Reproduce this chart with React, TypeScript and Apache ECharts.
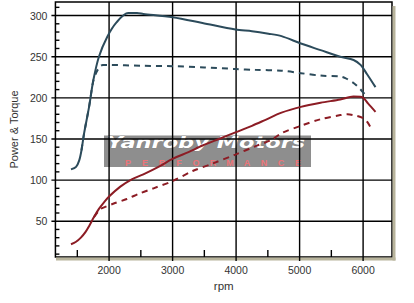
import React, { useEffect, useRef } from "react";
import * as echarts from "echarts";

// ---- data ----
const powerRpm = [1400, 1480, 1530, 1565, 1607, 1685, 1751, 1840, 1970, 2120, 2300, 2440, 2540, 3000, 3470, 3990, 4250, 4510, 4715, 5020, 5330, 5640, 5850, 5960, 6060, 6195];
const power = [113, 116, 124, 136, 157, 189, 221, 250, 274, 292, 303, 303, 302, 298, 291, 283, 281, 278, 275, 266, 258, 250, 246, 240, 229, 213];

const powerStockRpm = [1565, 1607, 1685, 1750, 1800, 1856, 1900, 2000, 2500, 3000, 3500, 4000, 4300, 4715, 5020, 5330, 5640, 5720, 5850, 5950, 6040];
const powerStock = [136, 157, 189, 220, 231, 238, 240, 240, 239, 238.5, 237, 235, 234, 233, 230, 227, 226, 224, 218, 211, 203];

const torqueRpm = [1400, 1480, 1556, 1630, 1685, 1762, 1840, 1920, 2000, 2177, 2357, 2540, 2800, 3005, 3250, 3472, 3730, 3990, 4250, 4455, 4715, 5020, 5330, 5640, 5848, 5977, 6080, 6195];
const torque = [22, 25, 30, 37, 44, 55, 65, 73, 80, 92, 101, 107, 117, 126, 134, 142, 150, 158, 166, 173, 182, 189, 194, 198, 201.5, 201, 193, 183];

const torqueStockRpm = [1762, 1840, 1866, 2073, 2280, 2488, 2700, 3005, 3316, 3627, 3989, 4300, 4560, 4715, 5020, 5330, 5641, 5754, 5900, 6010, 6062, 6120];
const torqueStock = [55, 63, 65, 71.5, 77, 84, 90, 99, 111, 120, 131, 141, 149, 157, 166, 174, 179, 180, 178, 175, 171, 164];

const xMajor = [2000, 3000, 4000, 5000, 6000];
const xMinor = [1500, 2500, 3500, 4500, 5500];
const yMajor = [50, 100, 150, 200, 250, 300];
const yMinor = [10, 20, 30, 40, 60, 70, 80, 90, 110, 120, 130, 140, 160, 170, 180, 190, 210, 220, 230, 240, 260, 270, 280, 290, 310];

const X_MIN = 1155;
const X_MAX = 6455;
const Y_MIN = 6.5;
const Y_MAX = 316.5;

const xName = "rpm";
const yName = "Power & Torque";
const brand = "Yanroby Motors";
const brandSub = "PERFORMANCE";

const TEAL = "#2c4b5b";
const RED = "#8c1c24";
const SHADOW = "#b8b49c";
const FONT = "Liberation Sans, Arial, sans-serif";
const LW = 1.4; // gridline / tick thickness

const pairs = (xs: number[], ys: number[]) => xs.map((x, i) => [x, ys[i]]);

export default function App() {
  const ref = useRef<HTMLDivElement>(null);
  useEffect(() => {
    if (!ref.current) return;
    const chart = echarts.init(ref.current, undefined, { renderer: "svg" });
    const labelStyle = { color: "#333", fontSize: 10.5, fontFamily: FONT };
    const lineCommon = { type: "line" as const, showSymbol: false, smooth: 0.3, z: 3, xAxisIndex: 0, yAxisIndex: 0 };

    // gridlines + ticks as thin filled rects, positioned through the axis scales (api.coord)
    const gridSeries = (kind: "xMajor" | "xMinor" | "yMajor" | "yMinor", values: number[]) => ({
      type: "custom" as const,
      data: values.map((v) => (kind[0] === "x" ? [v, Y_MIN] : [X_MIN, v])),
      renderItem: (_p: any, api: any) => {
        const style = { fill: "#000" };
        if (kind === "xMajor") {
          const v = api.value(0);
          const a = api.coord([v, Y_MAX]);
          const b = api.coord([v, Y_MIN]);
          return { type: "rect", shape: { x: a[0] - LW / 2, y: a[1], width: LW, height: b[1] + 4 - a[1] }, style };
        }
        if (kind === "xMinor") {
          const v = api.value(0);
          const b = api.coord([v, Y_MIN]);
          return { type: "rect", shape: { x: b[0] - LW / 2, y: b[1] - 7, width: LW, height: 7 }, style };
        }
        if (kind === "yMajor") {
          const v = api.value(1);
          const a = api.coord([X_MIN, v]);
          const b = api.coord([X_MAX, v]);
          return { type: "rect", shape: { x: a[0] - 4, y: a[1] - LW / 2, width: b[0] - a[0] + 4, height: LW }, style };
        }
        const v = api.value(1);
        const a = api.coord([X_MIN, v]);
        return { type: "rect", shape: { x: a[0], y: a[1] - LW / 2, width: 4, height: LW }, style };
      },
    });

    chart.setOption({
      animation: false,
      backgroundColor: "#fff",
      grid: {
        left: 51,
        top: 2,
        width: 341,
        height: 255,
        show: true,
        backgroundColor: "transparent",
        borderColor: "#000",
        borderWidth: 1.5,
      },
      xAxis: {
        type: "value",
        min: X_MIN,
        max: X_MAX,
        position: "bottom",
        name: xName,
        nameLocation: "middle",
        nameGap: 20,
        nameTextStyle: { color: "#333", fontSize: 11.5, fontFamily: FONT },
        axisLine: { show: false, onZero: false },
        axisTick: { show: false },
        axisLabel: { show: true, customValues: xMajor, margin: 7, formatter: (v: number) => String(v), ...labelStyle },
        splitLine: { show: false },
      },
      yAxis: {
        type: "value",
        min: Y_MIN,
        max: Y_MAX,
        position: "left",
        name: yName,
        nameLocation: "middle",
        nameGap: 28,
        nameTextStyle: { color: "#333", fontSize: 11, fontFamily: FONT },
        axisLine: { show: false, onZero: false },
        axisTick: { show: false },
        axisLabel: { show: true, customValues: yMajor, margin: 8, formatter: (v: number) => String(v), ...labelStyle },
        splitLine: { show: false },
      },
      graphic: [
        // frame shadow (right and bottom strips)
        { type: "rect", z: 0, shape: { x: 392.5, y: 6, width: 3, height: 254.5 }, style: { fill: SHADOW } },
        { type: "rect", z: 0, shape: { x: 56, y: 257.5, width: 339.5, height: 3 }, style: { fill: SHADOW } },
        {
          type: "group",
          z: 1,
          children: [
            {
              type: "rect",
              z: 1,
              shape: { x: 104, y: 135.5, width: 207, height: 31.5 },
              style: { fill: "#8e8e8e" },
            },
            {
              type: "text",
              z: 1,
              x: 206,
              y: 142.5,
              scaleX: 1.5,
              style: {
                x: 0,
                y: 0,
                text: brand,
                align: "center",
                verticalAlign: "middle",
                fill: "#ffffff",
                stroke: "rgba(110,110,110,0.45)",
                lineWidth: 0.6,
                fontFamily: "DejaVu Sans, sans-serif",
                fontWeight: "bold",
                fontStyle: "italic",
                fontSize: 15,
              },
            },
            ...brandSub.split("").map((ch, i) => ({
              type: "text",
              z: 1,
              x: 128 + i * 17,
              y: 162.5,
              style: {
                x: 0,
                y: 0,
                text: ch,
                align: "center",
                verticalAlign: "middle",
                fill: "#ec7478",
                fontFamily: FONT,
                fontWeight: "bold",
                fontSize: 9,
              },
            })),
          ],
        },
      ],
      series: [
        gridSeries("xMajor", xMajor),
        gridSeries("xMinor", xMinor),
        gridSeries("yMajor", yMajor),
        gridSeries("yMinor", yMinor),
        { ...lineCommon, name: "Power", data: pairs(powerRpm, power), lineStyle: { color: TEAL, width: 2 }, itemStyle: { color: TEAL } },
        { ...lineCommon, name: "Power (stock)", data: pairs(powerStockRpm, powerStock), lineStyle: { color: TEAL, width: 2, type: [6, 5] }, itemStyle: { color: TEAL } },
        { ...lineCommon, name: "Torque", data: pairs(torqueRpm, torque), lineStyle: { color: RED, width: 2 }, itemStyle: { color: RED } },
        { ...lineCommon, name: "Torque (stock)", data: pairs(torqueStockRpm, torqueStock), lineStyle: { color: RED, width: 2, type: [6, 5] }, itemStyle: { color: RED } },
      ],
    });
    return () => chart.dispose();
  }, []);
  return (
    <div
      ref={ref}
      style={{ position: "fixed", left: 0, top: 0, width: 414, height: 303, background: "#fff" }}
    />
  );
}
